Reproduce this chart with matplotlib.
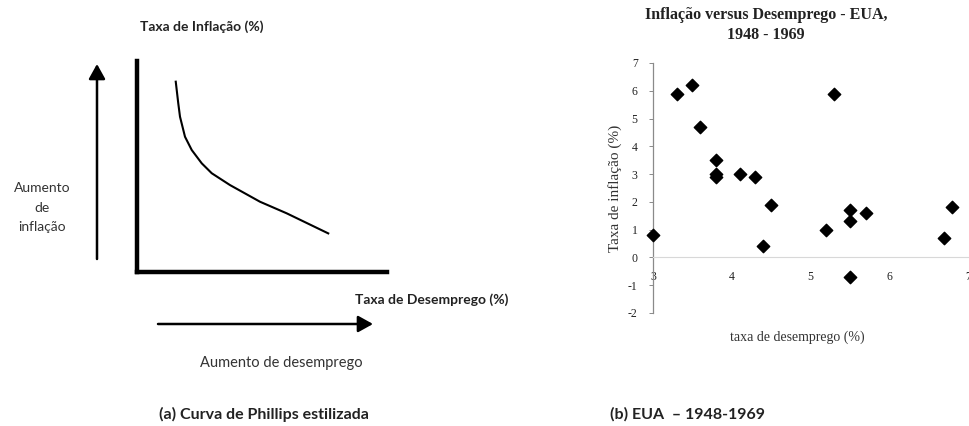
import numpy as np
import matplotlib
matplotlib.use("Agg")
import matplotlib.pyplot as plt

plt.rcParams["axes.unicode_minus"] = False

# (a) stylized Phillips curve, in arbitrary 0-10 units
curve_x = [1.55, 1.65, 1.72, 1.92, 2.19, 2.59, 2.99, 3.72, 4.92, 5.99, 7.65]
curve_y = [9.02, 8.00, 7.36, 6.41, 5.78, 5.15, 4.68, 4.12, 3.33, 2.78, 1.83]

# (b) USA 1948-1969: unemployment (%) vs inflation (%)
desemprego = [3.0, 3.3, 3.5, 3.6, 3.8, 3.8, 3.8, 4.1, 4.3, 4.4, 4.5,
              5.2, 5.3, 5.5, 5.5, 5.5, 5.7, 6.7, 6.8]
inflacao = [0.8, 5.9, 6.2, 4.7, 3.5, 3.0, 2.9, 3.0, 2.9, 0.4, 1.9,
            1.0, 5.9, 1.7, 1.3, -0.7, 1.6, 0.7, 1.8]
x_ticks = [3, 4, 5, 6, 7]
y_ticks = [-2, -1, 0, 1, 2, 3, 4, 5, 6, 7]

W, H = 969, 426
fig = plt.figure(figsize=(W / 100, H / 100), dpi=100)

sans = "Lato"
serif = "Liberation Serif"

# ---- left panel ----
ax1 = fig.add_axes([137 / W, 1 - 272 / H, 250 / W, 211 / H])
ax1.plot(curve_x, curve_y, color="black", lw=1.5)
ax1.set_xlim(0, 10)
ax1.set_ylim(0, 10)
for s in ["top", "right"]:
    ax1.spines[s].set_visible(False)
for s in ["left", "bottom"]:
    ax1.spines[s].set_linewidth(3.2)
ax1.set_xticks([])
ax1.set_yticks([])

def fpx(x, y):
    return (x / W, 1 - y / H)

# arrows
fig.add_artist(matplotlib.patches.FancyArrowPatch(
    fpx(97, 259), fpx(97, 64), transform=fig.transFigure,
    arrowstyle="-|>,head_length=9,head_width=5", lw=1.8, color="black",
    shrinkA=0, shrinkB=0))
fig.add_artist(matplotlib.patches.FancyArrowPatch(
    fpx(158, 324), fpx(373, 324), transform=fig.transFigure,
    arrowstyle="-|>,head_length=9,head_width=5", lw=1.8, color="black",
    shrinkA=0, shrinkB=0))

fig.text(*fpx(202, 27), "Taxa de Inflação (%)", ha="center", va="center",
         fontsize=10, fontweight="bold", family=sans, color="#222222")
fig.text(*fpx(42, 208), "Aumento\nde\ninflação", ha="center", va="center",
         fontsize=10, family=sans, linespacing=1.75, color="#333333")
fig.text(*fpx(432, 300), "Taxa de Desemprego (%)", ha="center", va="center",
         fontsize=10, fontweight="bold", family=sans, color="#222222")
fig.text(*fpx(281, 363), "Aumento de desemprego", ha="center", va="center",
         fontsize=10.5, family=sans, color="#333333")
fig.text(*fpx(264, 414), "(a) Curva de Phillips estilizada", ha="center",
         va="center", fontsize=11.5, fontweight="bold", family=sans,
         color="#222222")
fig.text(*fpx(688, 414), "(b) EUA  \u2013 1948-1969", ha="center",
         va="center", fontsize=11.5, fontweight="bold", family=sans,
         color="#222222")

# ---- right panel ----
ax2 = fig.add_axes([653 / W, 1 - 313 / H, 315 / W, 250 / H])
ax2.scatter(desemprego, inflacao, marker="D", s=40, color="black",
            zorder=3, clip_on=False)
ax2.set_xlim(3, 7)
ax2.set_ylim(-2, 7)
ax2.set_xticks(x_ticks)
ax2.set_yticks(y_ticks)
ax2.spines["top"].set_visible(False)
ax2.spines["right"].set_visible(False)
ax2.spines["bottom"].set_position(("data", 0))
ax2.spines["bottom"].set_color("#d8d8d8")
ax2.spines["bottom"].set_linewidth(0.8)
ax2.spines["left"].set_color("#8a8a8a")
ax2.spines["left"].set_linewidth(0.9)
ax2.tick_params(axis="y", length=3, width=0.7, color="#8a8a8a", pad=8,
                labelsize=8.5)
ax2.tick_params(axis="x", length=0, pad=10, labelsize=8.5)
for lab in ax2.get_xticklabels() + ax2.get_yticklabels():
    lab.set_family(serif)
    lab.set_color("#222222")
ax2.set_ylabel("Taxa de inflação (%)", family=serif, fontsize=11,
               color="#333333", labelpad=4)
fig.text(*fpx(797, 337), "taxa de desemprego (%)", ha="center", va="center",
         fontsize=10, family=serif, color="#333333")
fig.text(*fpx(766, 25), "Inflação versus Desemprego - EUA,\n1948 - 1969",
         ha="center", va="center", fontsize=11.5, fontweight="bold",
         family=serif, color="#222222", linespacing=1.3)

fig.savefig("out.png", dpi=100)
